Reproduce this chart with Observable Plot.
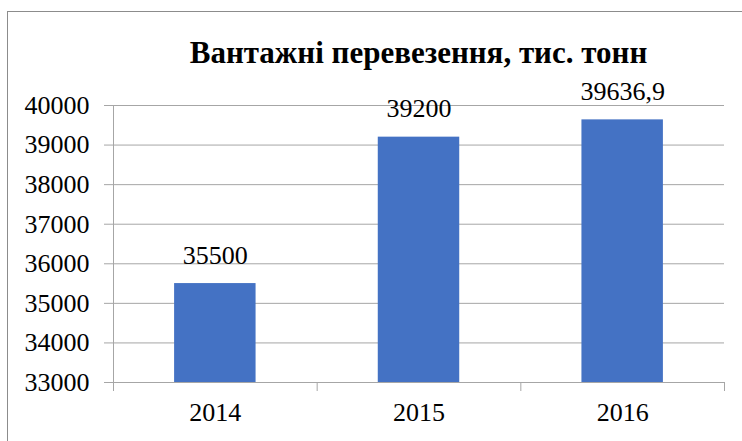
<!DOCTYPE html>
<html>
<head>
<meta charset="utf-8">
<script src="https://cdn.jsdelivr.net/npm/d3@7"></script>
<script src="https://cdn.jsdelivr.net/npm/@observablehq/plot@0.6"></script>
<style>
  html, body { margin: 0; padding: 0; background: #fff; overflow: hidden; }
  #wrap { position: relative; width: 742px; height: 441px; }
  #border { position: absolute; left: 7px; top: 11px; width: 800px; height: 500px; border: 1px solid #8c8c8c; box-sizing: border-box; }
  #title { position: absolute; left: 113px; width: 611px; top: 0; height: 70px; text-align: center; white-space: nowrap;
           font-family: 'Liberation Serif', 'Times New Roman', serif; font-weight: bold; font-size: 31px;
           line-height: 28px; padding-top: 39px; box-sizing: border-box; color: #000; }
  #chart { position: absolute; left: 0; top: 70px; }
  #chart svg, #chart svg text { font-family: 'Liberation Serif', 'Times New Roman', serif !important; }
</style>
</head>
<body>
<div id="wrap">
  <div id="border"></div>
  <div id="title">Вантажні перевезення, тис. тонн</div>
  <div id="chart"></div>
</div>
<script>
const years = [2014, 2015, 2016];
const values = [35500, 39200, 39636.9];
const labels = ["35500", "39200", "39636,9"];
const yTicks = [33000, 34000, 35000, 36000, 37000, 38000, 39000, 40000];

const data = years.map((y, i) => ({year: y, value: values[i], label: labels[i]}));
const bounds = [years[0] - 0.5, ...years.map(y => y + 0.5)];

const chart = Plot.plot({
  width: 742,
  height: 371,
  marginLeft: 113,
  marginRight: 18,
  marginTop: 35,
  marginBottom: 59,
  style: {fontSize: "26px", color: "#000", background: "transparent", overflow: "visible"},
  x: {type: "linear", domain: [bounds[0], bounds[bounds.length - 1]]},
  y: {domain: [33000, 40000]},
  marks: [
    Plot.gridY(yTicks, {stroke: "#a6a6a6", strokeOpacity: 1, strokeWidth: 1}),
    Plot.rectY(data, {x1: d => d.year - 0.2, x2: d => d.year + 0.2, y1: 33000, y2: "value", fill: "#4472C4", inset: 0}),
    Plot.ruleY([33000], {stroke: "#a6a6a6"}),
    Plot.ruleX([bounds[0]], {stroke: "#a6a6a6"}),
    Plot.axisY({ticks: yTicks, tickSize: 9, tickPadding: 15, stroke: "#a6a6a6", strokeOpacity: 1, tickFormat: d => String(d), label: null, fill: "#000"}),
    Plot.axisX({ticks: bounds, tickSize: 9, tickFormat: () => "", stroke: "#a6a6a6", strokeOpacity: 1, label: null}),
    Plot.axisX({ticks: years, tickSize: 0, tickPadding: 20, tickFormat: d => String(d), label: null, fill: "#000"}),
    Plot.text(data, {x: "year", y: "value", text: "label", lineAnchor: "middle", dy: -28, fontSize: 26, fill: "#000"})
  ]
});
document.getElementById("chart").appendChild(chart);
</script>
</body>
</html>
